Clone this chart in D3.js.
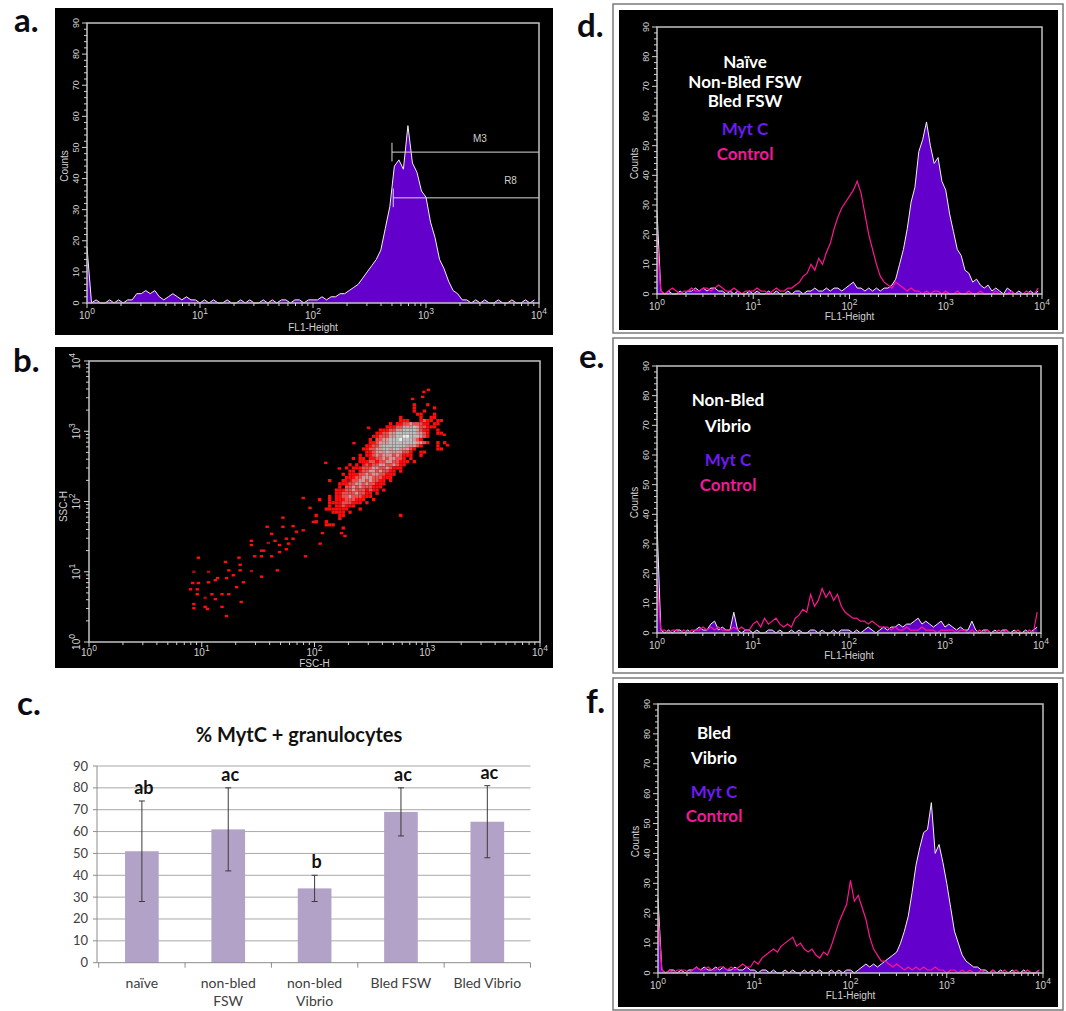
<!DOCTYPE html>
<html>
<head>
<meta charset="utf-8">
<script src="https://cdn.jsdelivr.net/npm/d3@7"></script>
<style>
  body { margin: 0; background: #fff; }
  svg { display: block; }
</style>
</head>
<body>
<script>
// ---------- data ----------
// flow histograms: 100 channels over 4 log decades (25 per decade), counts
const channels = d3.range(100).map(i => Math.pow(10, i / 25));

const histA_myt = [18,
  0,1,0,0,1,0,1,0,1,
  1,3,3,4,3,4,2,1,2,3,2,1,2,1,1,
  0,1,0,1,0,0,1,0,0,1,0,1,0,0,1,0,1,0,1,1,0,1,1,0,1,
  1,1,2,1,2,
  2,3,3,4,5,6,8,10,12,14,
  17,24,31,44,46,43,57,45,42,36,
  34,26,21,14,11,7,4,3,1,1,
  0,1,0,1,0,0,1,0,0,1,0,0,1,0,1];

const histD_myt = [28,
  1,0,1,0,0,1,0,1,1,2,1,2,1,2,2,1,1,0,1,0,1,0,0,1,
  0,1,0,0,1,0,1,0,0,1,0,1,1,0,1,1,2,1,
  1,2,1,2,2,1,2,
  3,4,2,2,1,2,1,2,1,2,
  2,3,5,10,15,
  22,31,36,48,52,58,50,44,46,38,
  35,27,21,15,13,8,7,4,5,3,
  2,3,1,2,1,0,2,1,0,1,0,0,1,0,1];
const histD_ctrl = [19,
  1,0,1,2,1,0,1,1,2,1,1,2,2,1,2,3,2,1,1,2,1,0,1,1,
  1,2,1,1,0,1,2,1,1,2,
  2,3,4,6,7,
  10,8,12,10,14,17,22,26,29,31,
  33,35,38,34,27,20,15,10,6,4,
  3,2,4,3,2,1,2,1,1,0,
  1,0,1,1,0,1,0,0,1,0,0,1,0,0,1,0,0,0,1,0,0,0,1,0,0,0,1,0,0,2];

const histE_myt = [37,
  1,0,1,0,1,1,0,1,0,1,2,1,1,3,4,1,2,1,1,7,1,0,1,1,
  0,1,0,0,1,1,0,1,0,0,1,0,1,0,0,1,1,0,1,0,0,1,0,1,1,
  1,0,1,0,1,2,1,0,1,2,
  1,2,2,3,2,3,3,4,5,3,
  4,3,2,3,4,2,3,2,1,2,
  1,1,4,1,0,1,1,0,1,0,
  1,1,0,1,0,0,1,0,1,2];
const histE_ctrl = [18,
  1,1,0,1,1,0,1,0,1,1,1,2,1,2,1,2,1,1,1,2,1,2,1,1,
  3,4,2,5,3,4,5,3,2,3,
  2,5,6,8,7,13,9,11,15,12,14,11,13,9,7,
  6,5,5,4,4,3,4,3,2,2,
  2,1,2,1,1,2,1,1,1,2,1,1,1,0,1,1,1,1,0,1,1,0,1,0,1,0,1,0,0,1,0,1,0,0,1,0,0,1,0,7];

const histF_myt = [25,
  1,0,1,1,0,1,0,1,1,2,1,2,1,1,2,1,2,1,1,2,1,1,2,1,
  1,0,1,1,0,1,0,0,1,0,1,0,0,1,0,1,0,1,0,0,1,0,1,0,1,
  1,0,1,2,3,2,3,2,3,4,
  5,6,7,10,14,19,27,36,42,47,
  48,57,40,43,37,30,22,14,10,6,
  4,3,2,2,1,1,0,1,0,1,
  0,0,1,0,0,1,0,0,0,1];
const histF_ctrl = [20,
  1,0,1,0,1,1,1,0,1,2,1,1,2,1,1,2,2,1,2,1,2,3,2,2,
  4,3,5,6,7,8,7,9,10,11,
  12,9,10,8,7,8,6,5,7,6,9,13,17,20,23,
  31,24,26,22,18,12,8,6,4,4,
  3,2,3,2,1,2,1,2,1,2,
  1,1,2,1,1,0,1,1,0,1,
  0,1,0,0,1,0,0,1,0,0,1,0,0,1,0,0,1,0,0,1];

// gates on panel a (FL1 channel from/to, count level, label position)
const gatesA = [
  { name: "M3", from: 500, to: 10000, count: 48.5, labelX: 3000, labelCount: 53 },
  { name: "R8", from: 513, to: 10000, count: 33.8, labelX: 5600, labelCount: 39.5 }
];

// dot plot b: density grid (log10 FSC from 2.0 step 0.03, log10 SSC from 3.4 step -0.045)
const bGridX0 = 2.0, bGridDX = 0.03, bGridY0 = 3.4, bGridDY = 0.045;
const bGrid = [
  "0000000000000000000000000000010001000000",
  "0000000000000000000000000000010000010000",
  "0000000000000000000000000000010010000000",
  "0000000000000000000000000000001100010000",
  "0000000000000000000000000100000100110000",
  "0000000000000000000000000111000121101100",
  "0000000000000000000000101122322211011000",
  "0000000000000000000001112233343221110000",
  "0000000000000000000111223344443211001000",
  "0000000000000000001122334444443321001100",
  "0000000000000000011222334455444321000000",
  "0000000000000000102233444544432100000000",
  "0000000000000000112333444444443321001010",
  "0000000000000001122344444443332100001000",
  "0000000000000011223344344333210000001100",
  "0000000000000001123334333322100110000000",
  "0000000000000101123233323211100100000000",
  "0000000000010110112232332210100000000000",
  "0000000000000111221223322111010000000000",
  "0000000000101012122332232110000000000000",
  "0000000001011122233223211100000000000000",
  "0000000000110122332322110100000000000000",
  "0000000010111223233221110000000000000000",
  "0000000001112233322211100000000000000000",
  "0000100011122332322110100000000000000000",
  "0000000111223323221110000000000000000000",
  "0000000102232322211100000000000000000000",
  "0000001112232221211010000000000000000000",
  "0000001122223221101000000000000000000000",
  "0000101122322211100000000000000000000000",
  "0100101112221110010000000000000000000000",
  "0000111122211101000000000000000000000000",
  "0000101121110000000000000000000000000000",
  "0001111111000100000000000000000000000000",
  "0000011110100000000000000000000000000000",
  "1000000110000000000000000100000000000000",
  "0000000100000000000000000000000000000000",
  "1001000000000000000000000000000000000000",
  "0001110000000000000000000000000000000000",
  "0000000010000000000000000000000000000000"
];
// isolated events [log10 FSC, log10 SSC, dim]
const bSparse = [
  [0.90,0.75,0],[0.92,0.84,0],[0.97,0.84,0],[0.97,1.20,0],[0.93,1.00,1],[0.93,0.54,0],[0.93,0.48,0],
  [0.96,0.75,0],[0.96,0.68,0],[1.03,0.50,0],[1.05,0.47,0],[1.06,1.00,1],[1.06,0.85,0],[1.09,0.68,0],
  [1.12,0.88,0],[1.12,0.61,0],[1.14,0.91,0],[1.18,0.68,0],[1.18,0.50,0],[1.21,1.14,0],[1.22,0.37,0],
  [1.22,0.91,0],[1.24,0.68,0],[1.24,1.02,0],[1.28,0.95,0],[1.31,0.78,0],[1.33,1.20,0],[1.34,1.10,0],
  [1.34,1.02,0],[1.35,0.57,0],[1.37,0.85,0],[1.44,1.44,0],[1.44,1.38,0],[1.44,1.01,1],[1.47,1.22,0],
  [1.53,1.22,0],[1.53,1.30,0],[1.53,0.93,0],[1.55,1.30,0],[1.58,1.64,0],[1.59,1.41,1],[1.62,1.54,0],
  [1.62,1.22,0],[1.65,1.44,0],[1.67,1.02,0],[1.69,1.28,0],[1.69,1.38,0],[1.72,1.77,0],[1.72,1.64,0],
  [1.75,1.32,0],[1.75,1.47,0],[1.77,1.40,0],[1.81,1.65,0],[1.81,1.47,0],[1.84,1.57,0],[1.90,1.59,0],
  [1.92,1.22,0],[1.99,1.71,0],[1.90,2.05,0],[1.96,1.91,0],[2.05,1.40,0],[2.07,1.55,0],[2.24,1.55,0],
  [2.27,1.51,0],[1.03,0.63,1],[2.87,3.46,0],[2.96,3.49,0],[2.97,3.56,0],[3.01,3.59,0],
  [2.10,2.55,0],[2.22,2.47,0],[2.35,2.83,0],[2.48,3.05,0],[3.15,2.95,0],[3.18,2.80,0],[2.30,2.30,1]
];
const bLevelColors = ["none", "#ff0e0e", "#ee5050", "#dc9494", "#bdbdbd", "#ececec"];

// bar chart c
const barCats = ["naïve", "non-bled FSW", "non-bled Vibrio", "Bled FSW", "Bled Vibrio"];
const barLabelLines = [["naïve"], ["non-bled", "FSW"], ["non-bled", "Vibrio"], ["Bled FSW"], ["Bled Vibrio"]];
const barMeans = [51, 61, 34, 69, 64.5];
const barErrs = [23, 19, 6, 11, 16.5];
const barLetters = ["ab", "ac", "b", "ac", "ac"];
const barTicks = d3.range(0, 91, 10);

// ---------- drawing ----------
const svg = d3.select("body").append("svg")
  .attr("width", 1066).attr("height", 1011);

const smallFont = "'Liberation Sans', Arial, sans-serif";
const boldFont = "Lato, 'Open Sans', sans-serif";
const tickCol = "#d2d2d2";

const isDecade = v => Math.abs(Math.log10(v) - Math.round(Math.log10(v))) < 1e-9;

function powText(t, exp, size) {
  t.append("tspan").text("10");
  t.append("tspan").attr("dy", -size * 0.5).attr("font-size", size * 0.85).text(exp);
}

function logXAxis(g, x, B, labDy) {
  g.selectAll(null).data(x.ticks()).join("line")
    .attr("x1", d => x(d)).attr("x2", d => x(d))
    .attr("y1", B).attr("y2", d => B + (isDecade(d) ? 5 : 3))
    .attr("stroke", tickCol).attr("stroke-width", 1);
  [1, 10, 100, 1000, 10000].forEach(v => {
    const t = g.append("text").attr("x", x(v)).attr("y", B + labDy)
      .attr("text-anchor", "middle").attr("font-family", smallFont)
      .attr("font-size", 10).attr("fill", tickCol);
    powText(t, Math.round(Math.log10(v)), 10);
  });
}

function histPanel(p) {
  const g = svg.append("g");
  if (p.frame) {
    g.append("rect").attr("x", p.frame[0]).attr("y", p.frame[1])
      .attr("width", p.frame[2] - p.frame[0]).attr("height", p.frame[3] - p.frame[1])
      .attr("fill", "#fff").attr("stroke", "#7a7a7a").attr("stroke-width", 1.5);
  }
  g.append("rect").attr("x", p.box[0]).attr("y", p.box[1])
    .attr("width", p.box[2] - p.box[0]).attr("height", p.box[3] - p.box[1])
    .attr("fill", "#000");

  const [L, T, R, B] = p.plot;
  const x = d3.scaleLog().domain([1, 1e4]).range([L, R]);
  const y = d3.scaleLinear().domain([0, 90]).range([B, T]);

  if (p.myt) {
    g.append("path").datum(p.myt)
      .attr("fill", "#6400cc")
      .attr("d", d3.area().x((d, i) => x(channels[i])).y0(B).y1(d => y(d)));
    g.append("path").datum(p.myt)
      .attr("fill", "none").attr("stroke", "#f0f0f0").attr("stroke-width", 1)
      .attr("d", d3.line().x((d, i) => x(channels[i])).y(d => y(d)));
  }
  if (p.ctrl) {
    g.append("path").datum(p.ctrl)
      .attr("fill", "none").attr("stroke", "#ff1493").attr("stroke-width", 1.2)
      .attr("d", d3.line().x((d, i) => x(channels[i])).y(d => y(d)));
  }

  // gates
  if (p.gates) {
    p.gates.forEach(gt => {
      g.append("line").attr("x1", x(gt.from)).attr("x2", x(gt.to))
        .attr("y1", y(gt.count)).attr("y2", y(gt.count))
        .attr("stroke", "#d8d8d8").attr("stroke-width", 1);
      g.append("line").attr("x1", x(gt.from)).attr("x2", x(gt.from))
        .attr("y1", y(gt.count - 3)).attr("y2", y(gt.count + 3))
        .attr("stroke", "#d8d8d8").attr("stroke-width", 1);
      g.append("text").attr("x", x(gt.labelX)).attr("y", y(gt.labelCount) + 4)
        .attr("text-anchor", "middle").attr("font-family", smallFont)
        .attr("font-size", 10).attr("fill", "#cfcfcf").text(gt.name);
    });
  }

  g.append("rect").attr("x", L).attr("y", T).attr("width", R - L).attr("height", B - T)
    .attr("fill", "none").attr("stroke", "#c4c4c4").attr("stroke-width", 1.5);

  logXAxis(g, x, B, 16);

  g.selectAll(null).data(d3.range(0, 91, 2)).join("line")
    .attr("x1", L).attr("x2", d => L - (d % 10 === 0 ? 5 : 3))
    .attr("y1", d => y(d)).attr("y2", d => y(d))
    .attr("stroke", tickCol).attr("stroke-width", 1);
  d3.range(0, 91, 10).forEach(v => {
    g.append("text").attr("transform", `translate(${L - 8.5},${y(v)}) rotate(-90)`)
      .attr("text-anchor", "middle").attr("font-family", smallFont)
      .attr("font-size", 9).attr("fill", tickCol).text(v);
  });
  g.append("text").attr("transform", `translate(${L - 19},${(T + B) / 2 + 3}) rotate(-90)`)
    .attr("text-anchor", "middle").attr("font-family", smallFont)
    .attr("font-size", 10).attr("fill", tickCol).text("Counts");
  g.append("text").attr("x", (L + R) / 2).attr("y", B + p.titleDy)
    .attr("text-anchor", "middle").attr("font-family", smallFont)
    .attr("font-size", 10).attr("fill", tickCol).text("FL1-Height");

  if (p.legend) {
    p.legend.forEach(l => {
      g.append("text").attr("x", p.legendX).attr("y", l.y)
        .attr("text-anchor", "middle").attr("font-family", boldFont)
        .attr("font-weight", 700).attr("font-size", 17).attr("fill", l.c).text(l.t);
    });
  }
}

const white = "#ffffff", mytCol = "#6d1bf0", ctrlCol = "#f2189a";

histPanel({ box: [55, 8, 553, 335], plot: [87, 23, 539, 303], myt: histA_myt, gates: gatesA, titleDy: 28 });
histPanel({ frame: [613, 4, 1063, 333], box: [619, 10, 1058, 330], plot: [657, 27, 1042, 294],
  myt: histD_myt, ctrl: histD_ctrl, titleDy: 26, legendX: 745,
  legend: [{ t: "Naïve", c: white, y: 68 }, { t: "Non-Bled FSW", c: white, y: 87.5 },
           { t: "Bled FSW", c: white, y: 107 }, { t: "Myt C", c: mytCol, y: 135 },
           { t: "Control", c: ctrlCol, y: 160 }] });
histPanel({ frame: [613, 338, 1063, 673], box: [618, 345, 1058, 668], plot: [657, 366, 1041, 633],
  myt: histE_myt, ctrl: histE_ctrl, titleDy: 26, legendX: 728,
  legend: [{ t: "Non-Bled", c: white, y: 406 }, { t: "Vibrio", c: white, y: 432 },
           { t: "Myt C", c: mytCol, y: 466 }, { t: "Control", c: ctrlCol, y: 491 }] });
histPanel({ frame: [613, 678, 1063, 1010], box: [618, 683, 1058, 1007], plot: [658, 704, 1043, 973],
  myt: histF_myt, ctrl: histF_ctrl, titleDy: 26, legendX: 714,
  legend: [{ t: "Bled", c: white, y: 739 }, { t: "Vibrio", c: white, y: 764 },
           { t: "Myt C", c: mytCol, y: 798 }, { t: "Control", c: ctrlCol, y: 822 }] });

// ---- panel b: FSC/SSC dot plot ----
(function () {
  const g = svg.append("g");
  g.append("rect").attr("x", 55).attr("y", 347).attr("width", 498).attr("height", 321).attr("fill", "#000");
  const L = 89, R = 540, T = 361, B = 642;
  const x = d3.scaleLog().domain([1, 1e4]).range([L, R]);
  const y = d3.scaleLog().domain([1, 1e4]).range([B, T]);

  const cells = [];
  bGrid.forEach((row, r) => {
    row.split("").forEach((ch, c) => {
      const lv = +ch;
      if (lv > 0) cells.push({ lx: bGridX0 + c * bGridDX, ly: bGridY0 - r * bGridDY, lv });
    });
  });
  g.selectAll(null).data(cells).join("rect")
    .attr("x", d => x(Math.pow(10, d.lx)))
    .attr("y", d => y(Math.pow(10, d.ly)))
    .attr("width", d => x(Math.pow(10, d.lx + bGridDX)) - x(Math.pow(10, d.lx)))
    .attr("height", d => y(Math.pow(10, d.ly - bGridDY)) - y(Math.pow(10, d.ly)))
    .attr("fill", d => bLevelColors[d.lv]);

  g.selectAll(null).data(bSparse).join("rect")
    .attr("x", d => x(Math.pow(10, d[0])) - 1.7)
    .attr("y", d => y(Math.pow(10, d[1])) - 1.2)
    .attr("width", 3.4).attr("height", 2.4)
    .attr("fill", d => d[2] ? "#a01010" : "#ff0e0e");

  g.append("rect").attr("x", L).attr("y", T).attr("width", R - L).attr("height", B - T)
    .attr("fill", "none").attr("stroke", "#c4c4c4").attr("stroke-width", 1.5);

  logXAxis(g, x, B, 14);
  g.selectAll(null).data(y.ticks()).join("line")
    .attr("x1", L).attr("x2", d => L - (isDecade(d) ? 5 : 3))
    .attr("y1", d => y(d)).attr("y2", d => y(d))
    .attr("stroke", tickCol).attr("stroke-width", 1);
  [1, 10, 100, 1000, 10000].forEach(v => {
    const t = g.append("text").attr("transform", `translate(${L - 9},${y(v)}) rotate(-90)`)
      .attr("text-anchor", "middle").attr("font-family", smallFont)
      .attr("font-size", 10).attr("fill", tickCol);
    powText(t, Math.round(Math.log10(v)), 10);
  });
  g.append("text").attr("transform", `translate(${L - 22},${(T + B) / 2 + 5}) rotate(-90)`)
    .attr("text-anchor", "middle").attr("font-family", smallFont)
    .attr("font-size", 10).attr("fill", tickCol).text("SSC-H");
  g.append("text").attr("x", (L + R) / 2).attr("y", B + 25)
    .attr("text-anchor", "middle").attr("font-family", smallFont)
    .attr("font-size", 10).attr("fill", tickCol).text("FSC-H");
})();

// ---- panel c: bar chart ----
(function () {
  const g = svg.append("g");
  const x = d3.scaleBand().domain(barCats).range([98.7, 530.5]).paddingInner(0.61).paddingOuter(0.305);
  const y = d3.scaleLinear().domain([0, 90]).range([962.7, 766]);
  const axL = 97, axR = 530.5;
  const txt = "#404040";

  g.selectAll(null).data(barTicks.filter(v => v > 0)).join("line")
    .attr("x1", axL).attr("x2", axR).attr("y1", d => y(d)).attr("y2", d => y(d))
    .attr("stroke", "#a8a8a8").attr("stroke-width", 1);
  g.append("line").attr("x1", axL).attr("x2", axL).attr("y1", y(90)).attr("y2", y(0))
    .attr("stroke", "#8c8c8c");
  g.selectAll(null).data(barTicks).join("line")
    .attr("x1", axL - 4).attr("x2", axL).attr("y1", d => y(d)).attr("y2", d => y(d))
    .attr("stroke", "#8c8c8c");
  g.selectAll(null).data(barTicks).join("text")
    .attr("x", 88).attr("y", d => y(d) + 4.5).attr("text-anchor", "end")
    .attr("font-family", boldFont).attr("font-size", 13).attr("fill", txt).text(d => d);

  g.selectAll(null).data(barCats).join("rect")
    .attr("x", d => x(d)).attr("width", x.bandwidth())
    .attr("y", (d, i) => y(barMeans[i])).attr("height", (d, i) => y(0) - y(barMeans[i]))
    .attr("fill", "#b3a2c7");

  g.append("line").attr("x1", axL).attr("x2", axR).attr("y1", y(0)).attr("y2", y(0))
    .attr("stroke", "#8c8c8c");
  const bounds = barCats.map(c => x(c) + x.bandwidth() / 2 - x.step() / 2);
  bounds.push(bounds[bounds.length - 1] + x.step());
  g.selectAll(null).data(bounds).join("line")
    .attr("x1", d => d).attr("x2", d => d).attr("y1", y(0)).attr("y2", y(0) + 5)
    .attr("stroke", "#8c8c8c");

  barCats.forEach((c, i) => {
    const cx = x(c) + x.bandwidth() / 2;
    const top = y(barMeans[i] + barErrs[i]), bot = y(barMeans[i] - barErrs[i]);
    g.append("line").attr("x1", cx).attr("x2", cx).attr("y1", top).attr("y2", bot)
      .attr("stroke", "#3a3a3a").attr("stroke-width", 1);
    [top, bot].forEach(yy => g.append("line").attr("x1", cx - 3).attr("x2", cx + 3)
      .attr("y1", yy).attr("y2", yy).attr("stroke", "#3a3a3a").attr("stroke-width", 1));
    g.append("text").attr("x", cx + 2).attr("y", top - 7).attr("text-anchor", "middle")
      .attr("font-family", boldFont).attr("font-weight", 700).attr("font-size", 18)
      .attr("fill", "#111").text(barLetters[i]);
    barLabelLines[i].forEach((ln, k) => {
      g.append("text").attr("x", cx).attr("y", 988 + k * 18).attr("text-anchor", "middle")
        .attr("font-family", boldFont).attr("font-size", 14).attr("fill", txt).text(ln);
    });
  });

  g.append("text").attr("x", 299).attr("y", 742).attr("text-anchor", "middle")
    .attr("font-family", boldFont).attr("font-weight", 700).attr("font-size", 20)
    .attr("fill", "#111").text("% MytC + granulocytes");
})();

// ---- panel letters ----
[["a.", 14, 32], ["b.", 13, 372], ["c.", 17, 715], ["d.", 577, 37], ["e.", 579, 368], ["f.", 586, 713]]
  .forEach(([t, px, py]) => {
    svg.append("text").attr("x", px).attr("y", py)
      .attr("font-family", boldFont).attr("font-weight", 700).attr("font-size", 33)
      .attr("fill", "#0b0b14").text(t);
  });
</script>
</body>
</html>
